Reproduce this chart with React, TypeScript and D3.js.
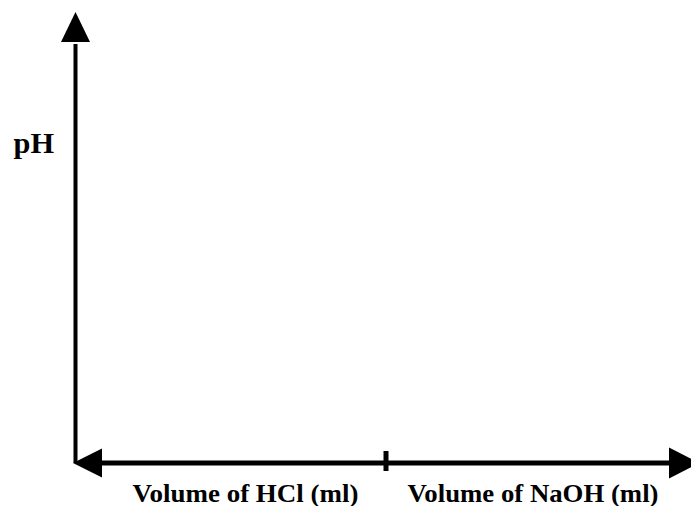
import React from "react";
import * as d3 from "d3";

const xLabels: string[] = ["Volume of HCl (ml)", "Volume of NaOH (ml)"];
const xLabelStart: number[] = [132.5, 407.5];
const xLabelWidth: number[] = [226, 251];
const xTicks: number[] = [0];
const yLabel: string = "pH";

const W = 691;
const H = 506;

export default function App() {
  const x = d3.scaleLinear().domain([-1, 1]).range([86, 686]);
  const y = d3.scaleLinear().domain([0, 14]).range([463, 42]);
  const axisX = 75.5;
  const axisY = y(0);
  const font = "'Liberation Serif', 'DejaVu Serif Condensed', 'DejaVu Serif', serif";

  return (
    <svg
      width={W}
      height={H}
      style={{ position: "absolute", left: 0, top: 0, background: "#fff" }}
    >
      <rect width={W} height={H} fill="#fff" />
      {/* vertical axis */}
      <line x1={axisX} x2={axisX} y1={axisY} y2={y(14) + 2} stroke="#000" strokeWidth={4} />
      <path d={`M${axisX},12 L${axisX + 14.5},42 L${axisX - 14.5},42 Z`} fill="#000" />
      {/* horizontal axis */}
      <line x1={100} x2={672} y1={axisY} y2={axisY} stroke="#000" strokeWidth={5} />
      <path d={`M73,${axisY} L102,${axisY - 14.5} L102,${axisY + 14.5} Z`} fill="#000" />
      <path d={`M699,${axisY} L669,${axisY - 15.5} L669,${axisY + 15.5} Z`} fill="#000" />
      {/* ticks */}
      {xTicks.map((t, i) => (
        <line key={i} x1={x(t)} x2={x(t)} y1={451} y2={471} stroke="#000" strokeWidth={5} />
      ))}
      {/* labels */}
      {xLabels.map((lab, i) => (
        <text
          key={lab}
          x={xLabelStart[i]}
          y={502}
          style={{ fontFamily: font, fontWeight: 700, fontSize: "24.5px" }}
          textLength={xLabelWidth[i]}
          lengthAdjust="spacingAndGlyphs"
          fill="#000"
        >
          {lab}
        </text>
      ))}
      <text
        x={13.5}
        y={153}
        style={{ fontFamily: font, fontWeight: 700, fontSize: "30px" }}
        textLength={40.5}
        lengthAdjust="spacingAndGlyphs"
        fill="#000"
      >
        {yLabel}
      </text>
    </svg>
  );
}
